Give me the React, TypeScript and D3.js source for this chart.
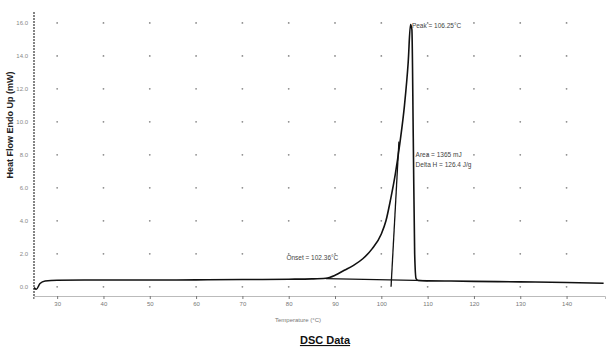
import React, { useEffect, useRef } from 'react';
import * as d3 from 'd3';

// temperature (°C) vs heat flow (mW)
const tempC = [25, 25.5, 26.3, 27.4, 30, 40, 50, 60, 70, 80, 85, 88, 90, 92, 94, 96, 98, 100, 101, 102, 103, 104, 105, 105.8, 106.3, 106.6, 106.9, 107.2, 107.5, 108, 110, 115, 120, 130, 140, 148];
const heatFlow = [-0.05, -0.15, 0.2, 0.35, 0.4, 0.41, 0.41, 0.42, 0.44, 0.46, 0.48, 0.52, 0.7, 1.0, 1.3, 1.7, 2.3, 3.2, 4.0, 5.3, 6.8, 8.7, 11.0, 13.6, 15.9, 15.6, 9.0, 2.0, 0.5, 0.38, 0.36, 0.35, 0.33, 0.3, 0.26, 0.22];

// onset tangent and integration baseline
const onsetT = [102.1, 103.8];
const onsetQ = [0.0, 8.8];
const baseT = [88, 110];
const baseQ = [0.5, 0.38];

const xTicks = [30, 40, 50, 60, 70, 80, 90, 100, 110, 120, 130, 140];
const yTicks = [0, 2, 4, 6, 8, 10, 12, 14, 16];

const notes = [
  { t: 106.6, q: 15.7, lines: ['Peak = 106.25°C'] },
  { t: 107.4, q: 7.9, lines: ['Area = 1365 mJ', 'Delta H = 126.4 J/g'] },
  { t: 79.5, q: 1.65, lines: ['Onset = 102.36°C'] },
];

const App = () => {
  const ref = useRef<SVGSVGElement>(null);

  useEffect(() => {
    const svg = d3.select(ref.current);
    svg.selectAll('*').remove();

    const x = d3.scaleLinear().domain([25, 148.3]).range([34, 605]);
    const y = d3.scaleLinear().domain([-0.8, 16.6]).range([300, 13]);

    // grid dots at intersections
    const g = svg.append('g');
    xTicks.forEach((t) => {
      yTicks.forEach((q) => {
        g.append('circle').attr('cx', x(t)).attr('cy', y(q)).attr('r', 0.9).attr('fill', '#8a8a8a');
      });
    });

    // y axis
    svg.append('line').attr('x1', 34).attr('x2', 34).attr('y1', 12).attr('y2', 300)
      .attr('stroke', '#333').attr('stroke-width', 1.2).attr('stroke-dasharray', '2 1');
    svg.append('g').selectAll('text').data(yTicks).enter().append('text')
      .attr('x', 28).attr('y', (d) => y(d) + 2).attr('text-anchor', 'end')
      .attr('font-size', 6).attr('fill', '#888').attr('font-family', 'Liberation Sans, Arial')
      .text((d) => d.toFixed(1));
    svg.append('text').attr('transform', 'translate(13,125) rotate(-90)')
      .attr('text-anchor', 'middle').attr('font-size', 9).attr('font-weight', 'bold')
      .attr('font-family', 'Liberation Sans, Arial').attr('fill', '#222')
      .text('Heat Flow Endo Up (mW)');

    // x axis
    const xAxis = d3.axisBottom(x).tickValues(xTicks).tickSize(3).tickFormat((d) => String(d));
    const ax = svg.append('g').attr('transform', 'translate(0,296)').call(xAxis);
    ax.select('.domain').attr('stroke', '#bbb');
    ax.selectAll('.tick line').attr('stroke', '#777');
    ax.selectAll('.tick text').attr('font-size', 6).attr('fill', '#777').attr('font-family', 'Liberation Sans, Arial');
    svg.append('text').attr('x', 298).attr('y', 322).attr('text-anchor', 'middle')
      .attr('font-size', 6).attr('fill', '#777').attr('font-family', 'Liberation Sans, Arial')
      .text('Temperature (°C)');

    const line = d3.line<number>().x((d, i) => x(tempC[i])).y((d) => y(d)).curve(d3.curveMonotoneX);
    svg.append('path').datum(heatFlow).attr('d', line).attr('fill', 'none')
      .attr('stroke', '#111').attr('stroke-width', 1.6);

    const seg = d3.line<number>();
    svg.append('path').attr('d', seg(onsetT.map((t, i) => [x(t), y(onsetQ[i])] as [number, number])))
      .attr('stroke', '#111').attr('stroke-width', 1.3).attr('fill', 'none');
    svg.append('path').attr('d', seg(baseT.map((t, i) => [x(t), y(baseQ[i])] as [number, number])))
      .attr('stroke', '#111').attr('stroke-width', 1.3).attr('fill', 'none');

    notes.forEach((n) => {
      n.lines.forEach((s, i) => {
        svg.append('text').attr('x', x(n.t)).attr('y', y(n.q) + i * 10)
          .attr('font-size', 6.5).attr('fill', '#444').attr('font-family', 'Liberation Sans, Arial')
          .text(s);
      });
    });

    svg.append('text').attr('x', 325).attr('y', 344).attr('text-anchor', 'middle')
      .attr('font-size', 11).attr('font-weight', 'bold').attr('text-decoration', 'underline')
      .attr('font-family', 'Liberation Sans, Arial').attr('fill', '#111').text('DSC Data');
  }, []);

  return (
    <svg ref={ref} width={608} height={351} style={{ position: 'absolute', left: 0, top: 0, background: '#fff' }} />
  );
};

export default App;
